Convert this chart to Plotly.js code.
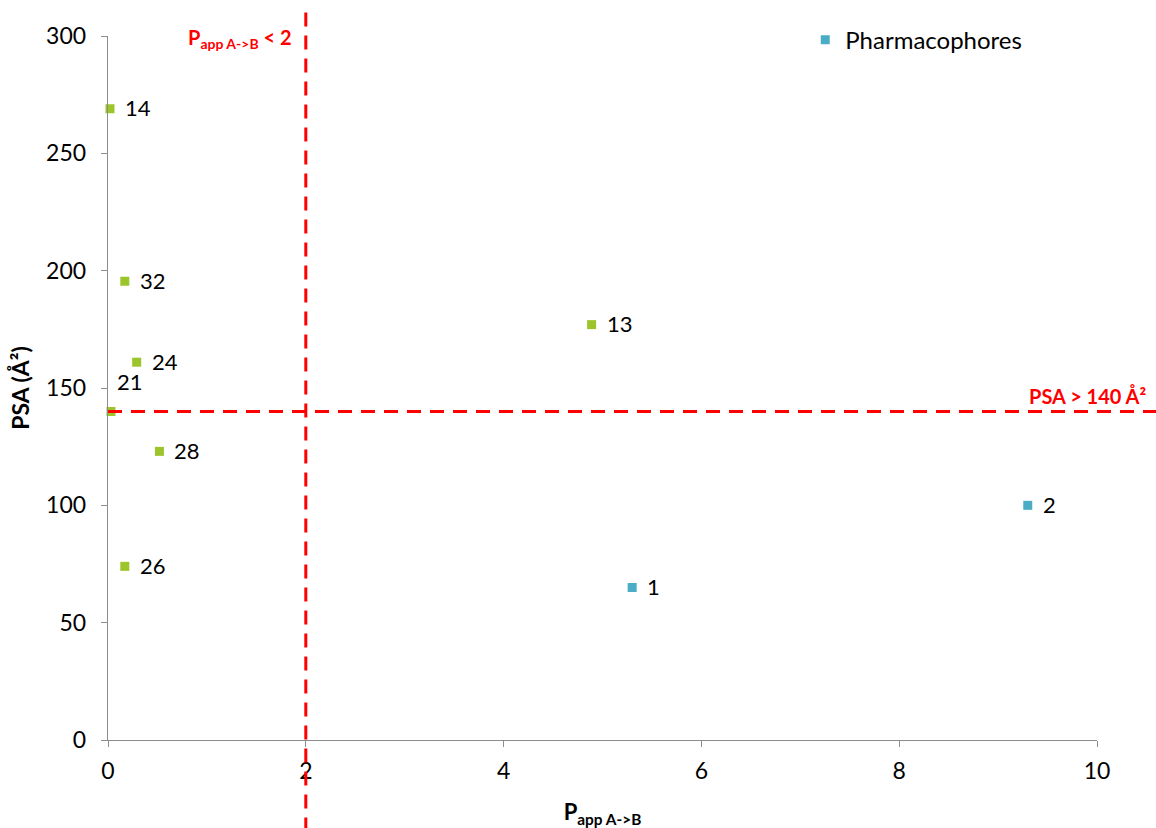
<!DOCTYPE html>
<html>
<head>
<meta charset="utf-8">
<script src="https://cdn.plot.ly/plotly-3.0.1.min.js"></script>
<style>html,body{margin:0;padding:0;background:#fff;}#chart{width:1156px;height:828px;}</style>
</head>
<body>
<div id="chart"></div>
<script>
// Compounds (green series, no legend entry)
const compoundLabels = ["14", "32", "24", "21", "28", "26", "13"];
const compoundPapp = [0.02, 0.17, 0.29, 0.03, 0.52, 0.17, 4.89];
const compoundPSA = [269, 195.5, 161, 140, 123, 74, 177];

// Pharmacophores (teal series)
const pharmaLabels = ["1", "2"];
const pharmaPapp = [5.3, 9.3];
const pharmaPSA = [65, 100];

// Thresholds
const pappThreshold = 2;
const psaThreshold = 140;

const xTicks = [0, 2, 4, 6, 8, 10];
const yTicks = [0, 50, 100, 150, 200, 250, 300];

const FONT = "Lato, 'Open Sans', sans-serif";
const green = "#9BC52B";
const teal = "#4BACC6";

const traces = [
  {
    x: compoundPapp, y: compoundPSA, type: "scatter", mode: "markers",
    marker: {symbol: "square", size: 9, color: green},
    showlegend: false, name: "Compounds", cliponaxis: false
  },
  {
    x: pharmaPapp, y: pharmaPSA, type: "scatter", mode: "markers",
    marker: {symbol: "square", size: 9, color: teal},
    name: "Pharmacophores", cliponaxis: false
  }
];

const annotations = [];
compoundLabels.forEach((t, i) => {
  const above = t === "21";
  annotations.push({
    x: compoundPapp[i], y: compoundPSA[i], text: t, showarrow: false,
    xanchor: "left", yanchor: "middle",
    xshift: above ? 4 : 13, yshift: above ? 30 : 1,
    font: {family: FONT, size: 22, color: "#000"}
  });
});
pharmaLabels.forEach((t, i) => {
  annotations.push({
    x: pharmaPapp[i], y: pharmaPSA[i], text: t, showarrow: false,
    xanchor: "left", yanchor: "middle", xshift: 13, yshift: 1,
    font: {family: FONT, size: 22, color: "#000"}
  });
});
annotations.push({
  x: pappThreshold, xref: "x", y: 1.0, yref: "paper", yanchor: "bottom",
  xanchor: "right", xshift: -12, yshift: -18,
  text: "<b>P<sub>app A-&gt;B</sub> &lt; 2</b>", showarrow: false,
  font: {family: FONT, size: 20, color: "#FF0000"}
});
annotations.push({
  x: 1.052, xref: "paper", y: psaThreshold, yref: "y", xanchor: "right", yanchor: "bottom",
  yshift: 1, text: "<b>PSA &gt; 140 Å²</b>", showarrow: false,
  font: {family: FONT, size: 20, color: "#FF0000"}
});

const layout = {
  width: 1156, height: 828,
  margin: {l: 108, r: 59, t: 36, b: 88},
  paper_bgcolor: "#fff", plot_bgcolor: "#fff",
  font: {family: FONT, size: 22, color: "#000"},
  xaxis: {
    range: [0, 10], tickvals: xTicks, ticktext: xTicks.map(String),
    showgrid: false, zeroline: false, showline: true, linecolor: "#8c8c8c", linewidth: 1.3,
    ticks: "outside", ticklen: 6, tickcolor: "#8c8c8c", ticklabelstandoff: 4,
    tickfont: {family: FONT, size: 23},
    title: {text: "<b>P<sub>app A-&gt;B</sub></b>", font: {family: FONT, size: 22}, standoff: 22}
  },
  yaxis: {
    range: [0, 300], tickvals: yTicks, ticktext: yTicks.map(String),
    showgrid: false, zeroline: false, showline: true, linecolor: "#8c8c8c", linewidth: 1.3,
    ticks: "outside", ticklen: 6, tickcolor: "#8c8c8c", ticklabelstandoff: 10,
    tickfont: {family: FONT, size: 23},
    title: {text: "<b>PSA (Å²)</b>", font: {family: FONT, size: 23}, standoff: 10}
  },
  legend: {
    x: 0.705, y: 1.026, xanchor: "left", yanchor: "top",
    font: {family: FONT, size: 24}, bgcolor: "rgba(0,0,0,0)", itemwidth: 30
  },
  shapes: [
    {type: "line", xref: "x", yref: "paper", x0: pappThreshold, x1: pappThreshold, y0: -0.13, y1: 1.042,
     line: {color: "#FF0000", width: 3, dash: "14px,9px"}},
    {type: "line", xref: "paper", yref: "y", x0: 0, x1: 1.07, y0: psaThreshold, y1: psaThreshold,
     line: {color: "#FF0000", width: 3, dash: "14px,9px"}}
  ],
  annotations: annotations
};

Plotly.newPlot("chart", traces, layout, {displayModeBar: false, staticPlot: true});
</script>
</body>
</html>
